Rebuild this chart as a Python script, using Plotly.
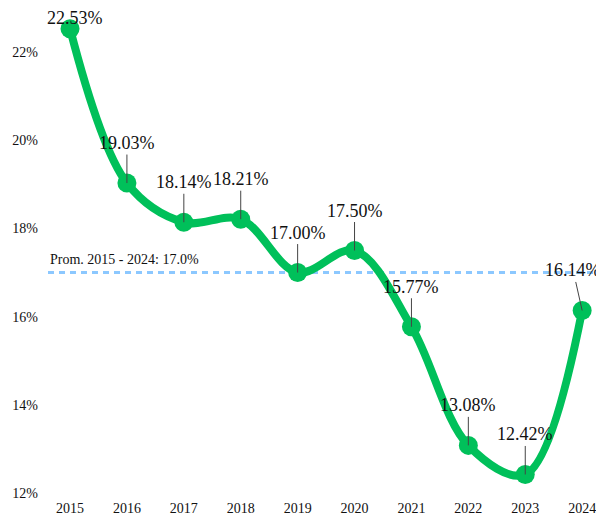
import plotly.graph_objects as go

years = [2015, 2016, 2017, 2018, 2019, 2020, 2021, 2022, 2023, 2024]
values = [22.53, 19.03, 18.14, 18.21, 17.00, 17.50, 15.77, 13.08, 12.42, 16.14]
avg_value = 17.0
avg_label = "Prom. 2015 - 2024: 17.0%"
y_ticks = [12, 14, 16, 18, 20, 22]

GREEN = "#00c05a"
FONT = "Liberation Serif"

fig = go.Figure()
fig.add_trace(go.Scatter(
    x=years, y=values, mode="lines+markers",
    line=dict(color=GREEN, width=8, shape="spline", smoothing=1.0),
    marker=dict(color=GREEN, size=19),
    hoverinfo="skip", showlegend=False,
))

fig.add_shape(type="line", xref="paper", yref="y", x0=0, x1=1, y0=avg_value, y1=avg_value,
              line=dict(color="#8cc8ff", width=3, dash="6px,5px"), layer="below")
fig.add_annotation(xref="paper", yref="y", x=0, y=avg_value, text=avg_label,
                   showarrow=False, xanchor="left", yanchor="bottom", yshift=4,
                   font=dict(family=FONT, size=14, color="#111"))

offsets = {2015: (5, -11), 2024: (-9, -40)}
for yr, v in zip(years, values):
    ax, ay = offsets.get(yr, (0, -40))
    fig.add_annotation(x=yr, y=v, text=f"{v:.2f}%", showarrow=True,
                       arrowhead=0, arrowwidth=1, arrowcolor="#444",
                       ax=ax, ay=ay, standoff=0,
                       font=dict(family=FONT, size=18, color="#111"))

fig.update_layout(
    width=596, height=512,
    margin=dict(l=40, r=0, t=0, b=27),
    paper_bgcolor="white", plot_bgcolor="white",
    font=dict(family=FONT, size=14, color="#111"),
    xaxis=dict(range=[2014.613, 2024.384], tickvals=years, ticktext=[str(y) for y in years],
               showgrid=False, zeroline=False, showline=False, ticks="",
               ticklabelstandoff=5, tickfont=dict(family=FONT, size=14)),
    yaxis=dict(range=[12, 23.0], tickvals=y_ticks, ticktext=[f"{t}%" for t in y_ticks],
               showgrid=False, zeroline=False, showline=False, ticks="",
               ticklabelstandoff=9, tickfont=dict(family=FONT, size=14)),
)

fig.write_html("out.html")
